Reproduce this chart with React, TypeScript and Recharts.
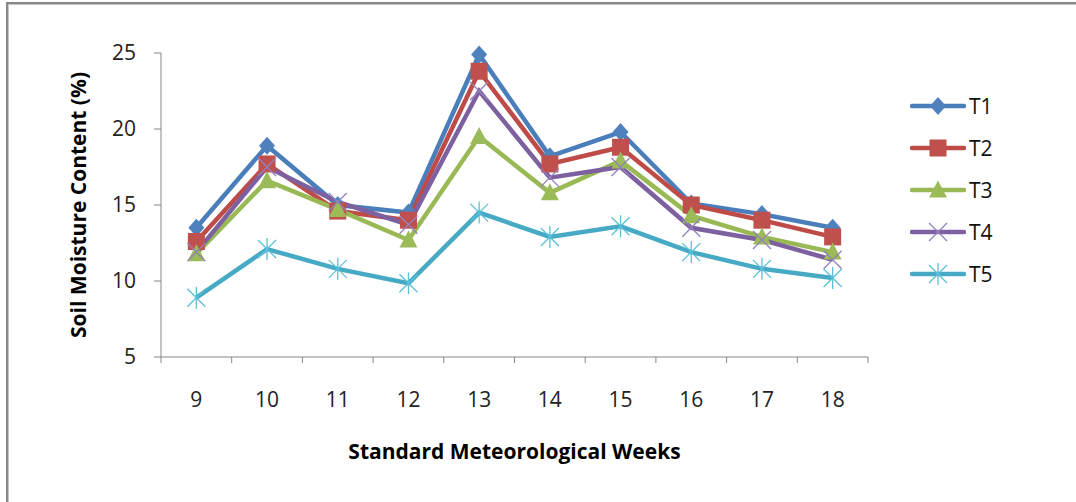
import React from 'react';
import { LineChart, Line, XAxis, YAxis, Label } from 'recharts';

const weeks = ['9', '10', '11', '12', '13', '14', '15', '16', '17', '18'];
const t1 = [13.5, 18.9, 15.0, 14.5, 24.9, 18.2, 19.8, 15.1, 14.4, 13.5];
const t2 = [12.6, 17.7, 14.6, 14.0, 23.8, 17.7, 18.8, 15.0, 14.0, 12.9];
const t3 = [11.8, 16.6, 14.7, 12.7, 19.5, 15.8, 17.9, 14.3, 12.9, 11.9];
const t4 = [11.9, 17.5, 15.2, 13.7, 22.5, 16.8, 17.5, 13.5, 12.7, 11.4];
const t5 = [8.9, 12.1, 10.8, 9.85, 14.5, 12.9, 13.6, 11.9, 10.8, 10.2];

const seriesNames = ['T1', 'T2', 'T3', 'T4', 'T5'];
const seriesValues = [t1, t2, t3, t4, t5];
const lineColors = ['#4A7EBB', '#BE4B48', '#98B954', '#7D60A0', '#46AAC5'];
const markerColors = ['#4F81BD', '#C0504D', '#9BBB59', '#9580BB', '#5CC0DA'];
const markerTypes = ['diamond', 'square', 'triangle', 'x', 'star'];
const yTicks = [5, 10, 15, 20, 25];

const xTitle = 'Standard Meteorological Weeks';
const yTitle = 'Soil Moisture Content (%)';

const data = weeks.map((w, i) => {
  const row: Record<string, any> = { week: w };
  seriesNames.forEach((n, s) => {
    row[n] = seriesValues[s][i];
  });
  return row;
});

const FONT = "'Open Sans', 'Liberation Sans', sans-serif";
const AXIS = '#868686';
const X_TICK_MARGIN = 35;
const X_TICK_LEN = 6;

function Marker({ type, cx, cy, color }: { type: string; cx: number; cy: number; color: string }) {
  switch (type) {
    case 'diamond':
      return <path d={`M${cx},${cy - 9}L${cx + 8},${cy}L${cx},${cy + 9}L${cx - 8},${cy}Z`} fill={color} />;
    case 'square':
      return <rect x={cx - 8.5} y={cy - 8.5} width={17} height={17} fill={color} />;
    case 'triangle':
      return <path d={`M${cx},${cy - 9.5}L${cx + 9},${cy + 7.5}L${cx - 9},${cy + 7.5}Z`} fill={color} />;
    case 'x':
      return (
        <g stroke={color} strokeWidth={1.3}>
          <line x1={cx - 9} y1={cy - 9} x2={cx + 9} y2={cy + 9} />
          <line x1={cx - 9} y1={cy + 9} x2={cx + 9} y2={cy - 9} />
        </g>
      );
    case 'star':
    default:
      return (
        <g stroke={color} strokeWidth={1.3}>
          <line x1={cx - 9} y1={cy - 9} x2={cx + 9} y2={cy + 9} />
          <line x1={cx - 9} y1={cy + 9} x2={cx + 9} y2={cy - 9} />
          <line x1={cx} y1={cy - 11} x2={cx} y2={cy + 11} />
        </g>
      );
  }
}

function makeDot(s: number) {
  return (props: any) => {
    const { cx, cy, index } = props;
    if (cx == null || cy == null) return <g key={`d${s}-${index}`} />;
    return (
      <g key={`d${s}-${index}`}>
        <Marker type={markerTypes[s]} cx={cx} cy={cy} color={markerColors[s]} />
      </g>
    );
  };
}

function XTick(props: any) {
  const { x, y, payload, index, width, visibleTicksCount } = props;
  const count = visibleTicksCount || weeks.length;
  const band = width / count;
  const axisY = y - X_TICK_MARGIN;
  return (
    <g>
      <line x1={x - band / 2} y1={axisY} x2={x - band / 2} y2={axisY + X_TICK_LEN} stroke={AXIS} />
      {index === count - 1 && (
        <line x1={x + band / 2} y1={axisY} x2={x + band / 2} y2={axisY + X_TICK_LEN} stroke={AXIS} />
      )}
      <text
        x={x}
        y={y}
        dy="0.71em"
        textAnchor="middle"
        fontFamily={FONT}
        fontSize={21}
        fill="#222"
      >
        {payload.value}
      </text>
    </g>
  );
}

function YTitle(props: any) {
  const vb = props.viewBox || {};
  const cy = vb.y + vb.height / 2;
  const cx = 78;
  return (
    <text
      x={cx}
      y={cy}
      transform={`rotate(-90, ${cx}, ${cy})`}
      textAnchor="middle"
      dominantBaseline="central"
      fontFamily={FONT}
      fontWeight={700}
      fontSize={21}
      fill="#000"
    >
      {yTitle}
    </text>
  );
}

function LegendBox() {
  return (
    <div style={{ position: 'absolute', left: 910, top: 85, fontFamily: FONT }}>
      {seriesNames.map((n, s) => (
        <div key={n} style={{ height: 42, display: 'flex', alignItems: 'center' }}>
          <svg width={56} height={26} style={{ display: 'block' }}>
            <line x1={2} y1={13} x2={54} y2={13} stroke={lineColors[s]} strokeWidth={4.5} strokeLinecap="round" />
            <Marker type={markerTypes[s]} cx={28} cy={13} color={markerColors[s]} />
          </svg>
          <span style={{ fontSize: 21, color: '#111', marginLeft: 3, lineHeight: '26px' }}>{n}</span>
        </div>
      ))}
    </div>
  );
}

export default function App() {
  return (
    <div
      style={{
        position: 'fixed',
        left: 0,
        top: 0,
        width: 1076,
        height: 502,
        overflow: 'hidden',
        background: '#fff',
      }}
    >
      <div
        style={{
          position: 'absolute',
          left: 6,
          top: 2,
          width: 1200,
          height: 700,
          borderTop: '2px solid #898989',
          borderLeft: '2px solid #898989',
          boxShadow: 'inset 1px 1px 0 #c4c4c4',
        }}
      />
      <div style={{ position: 'absolute', left: 0, top: 0 }}>
        <LineChart
          width={1076}
          height={502}
          data={data}
          margin={{ top: 53, right: 208, bottom: 0, left: 0 }}
        >
          <XAxis
            dataKey="week"
            scale="band"
            stroke={AXIS}
            tickLine={false}
            tickSize={0}
            tickMargin={X_TICK_MARGIN}
            height={145}
            interval={0}
            tick={<XTick />}
          >
            <Label
              value={xTitle}
              position="insideBottom"
              offset={43}
              style={{ fontFamily: FONT, fontSize: 21, fontWeight: 700, fill: '#000' }}
            />
          </XAxis>
          <YAxis
            domain={[5, 25]}
            ticks={yTicks}
            width={161}
            stroke={AXIS}
            tickSize={7}
            tickMargin={18}
            tick={{ fontFamily: FONT, fontSize: 21, fill: '#222' }}
          >
            <Label content={<YTitle />} />
          </YAxis>
          {seriesNames.map((n, s) => (
            <Line
              key={n}
              dataKey={n}
              stroke={lineColors[s]}
              strokeWidth={4.5}
              dot={makeDot(s)}
              activeDot={false}
              isAnimationActive={false}
            />
          ))}
        </LineChart>
      </div>
      <LegendBox />
    </div>
  );
}
